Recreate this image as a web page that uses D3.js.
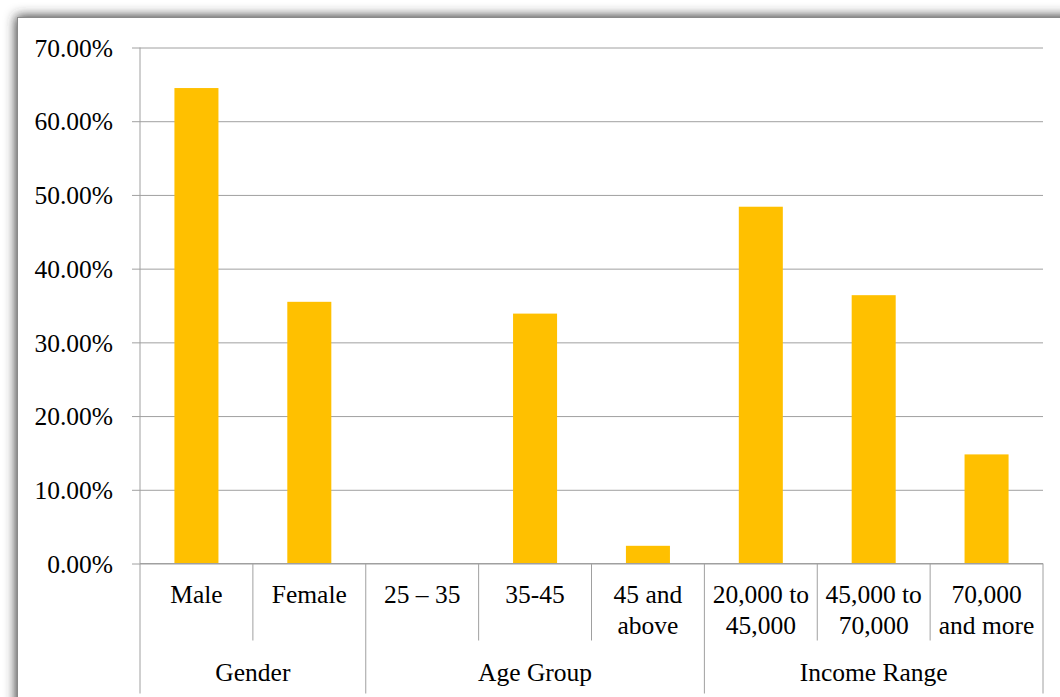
<!DOCTYPE html>
<html lang="en">

<head>
    <meta charset="UTF-8">
    <title>Respondent profile</title>
    <style>
        body { margin: 0; background: #fff; overflow: hidden; }
        text { font-family: "Liberation Serif", "Times New Roman", serif; fill: #000; }
    </style>
</head>

<body>
    <div id="my_dataviz"></div>

    <script src="https://d3js.org/d3.v7.min.js"></script>
    <script>

        // data
        const categories = ["Male", "Female", "25 – 35", "35-45", "45 and above",
            "20,000 to 45,000", "45,000 to 70,000", "70,000 and more"];
        const labelLines = [["Male"], ["Female"], ["25 – 35"], ["35-45"], ["45 and", "above"],
            ["20,000 to", "45,000"], ["45,000 to", "70,000"], ["70,000", "and more"]];
        const values = [0.645, 0.355, 0, 0.339, 0.024, 0.484, 0.364, 0.148];
        const groups = ["Gender", "Age Group", "Income Range"];
        const groupSizes = [2, 3, 3];
        const yTicks = [0, 0.1, 0.2, 0.3, 0.4, 0.5, 0.6, 0.7];

        const W = 1060, H = 697;
        const margin = { top: 47.5, right: 17, bottom: 133.5, left: 140 },
            width = W - margin.left - margin.right,
            height = H - margin.top - margin.bottom;

        const root = d3.select("#my_dataviz")
            .append("svg")
            .attr("width", W)
            .attr("height", H);

        // frame with soft shadow
        const defs = root.append("defs");
        const f = defs.append("filter").attr("id", "shadow")
            .attr("x", "-10%").attr("y", "-10%").attr("width", "120%").attr("height", "120%");
        f.append("feDropShadow").attr("dx", -1).attr("dy", -1)
            .attr("stdDeviation", 6).attr("flood-color", "#333").attr("flood-opacity", 1);

        root.append("rect")
            .attr("x", 17.5).attr("y", 17.5)
            .attr("width", 1100).attr("height", 760)
            .attr("fill", "#fff")
            .attr("stroke", "#8a8a8a")
            .attr("filter", "url(#shadow)");

        const svg = root.append("g")
            .attr("transform", `translate(${margin.left}, ${margin.top})`);

        // scales
        const x = d3.scaleBand()
            .domain(categories)
            .range([0, width])
            .paddingInner(0.61)
            .paddingOuter(0.305);

        const y = d3.scaleLinear()
            .domain([0, 0.7])
            .range([height, 0]);

        // gridlines + y labels
        const yAxis = svg.append("g")
            .call(d3.axisLeft(y).tickValues(yTicks).tickFormat(d3.format(".2%"))
                .tickSize(-width).tickPadding(27));
        yAxis.select(".domain").remove();
        yAxis.selectAll(".tick line").attr("stroke", "#a0a0a0").attr("x1", -8);
        yAxis.selectAll(".tick text")
            .style("font-family", '"Liberation Serif", serif')
            .attr("font-size", 25.5)
            .attr("dy", "0.34em")
            .attr("fill", "#000");

        // y axis line
        svg.append("line")
            .attr("x1", 0).attr("x2", 0)
            .attr("y1", 0).attr("y2", height)
            .attr("stroke", "#a0a0a0");

        // bars
        svg.append("g")
            .selectAll("rect")
            .data(values)
            .join("rect")
            .attr("x", (d, i) => x(categories[i]))
            .attr("y", d => y(d))
            .attr("width", x.bandwidth())
            .attr("height", d => height - y(d))
            .attr("fill", "#FFC000");

        // category axis (bottom)
        const step = x.step();
        const axisG = svg.append("g").attr("transform", `translate(0, ${height})`);
        axisG.append("line")
            .attr("x1", 0).attr("x2", width)
            .attr("stroke", "#a0a0a0");

        // group boundaries
        const groupStart = [];
        let acc = 0;
        groupSizes.forEach(s => { groupStart.push(acc); acc += s; });
        groupStart.push(acc);

        // separators: short inside a group, long at group edges
        d3.range(0, categories.length + 1).forEach(i => {
            const isGroup = groupStart.includes(i);
            axisG.append("line")
                .attr("x1", i * step).attr("x2", i * step)
                .attr("y1", 0).attr("y2", isGroup ? 130 : 77)
                .attr("stroke", "#a0a0a0");
        });

        // category labels
        const catLabel = axisG.selectAll(".cat")
            .data(labelLines)
            .join("text")
            .attr("class", "cat")
            .attr("text-anchor", "middle")
            .attr("font-size", 25.5)
            .attr("transform", (d, i) => `translate(${(i + 0.5) * step}, 39)`);
        catLabel.selectAll("tspan")
            .data(d => d)
            .join("tspan")
            .attr("x", 0)
            .attr("y", (d, i) => i * 31)
            .text(d => d);

        // group labels
        axisG.selectAll(".grp")
            .data(groups)
            .join("text")
            .attr("class", "grp")
            .attr("text-anchor", "middle")
            .attr("font-size", 25.5)
            .attr("x", (d, i) => (groupStart[i] + groupSizes[i] / 2) * step)
            .attr("y", 117)
            .text(d => d);

    </script>

</body>

</html>
